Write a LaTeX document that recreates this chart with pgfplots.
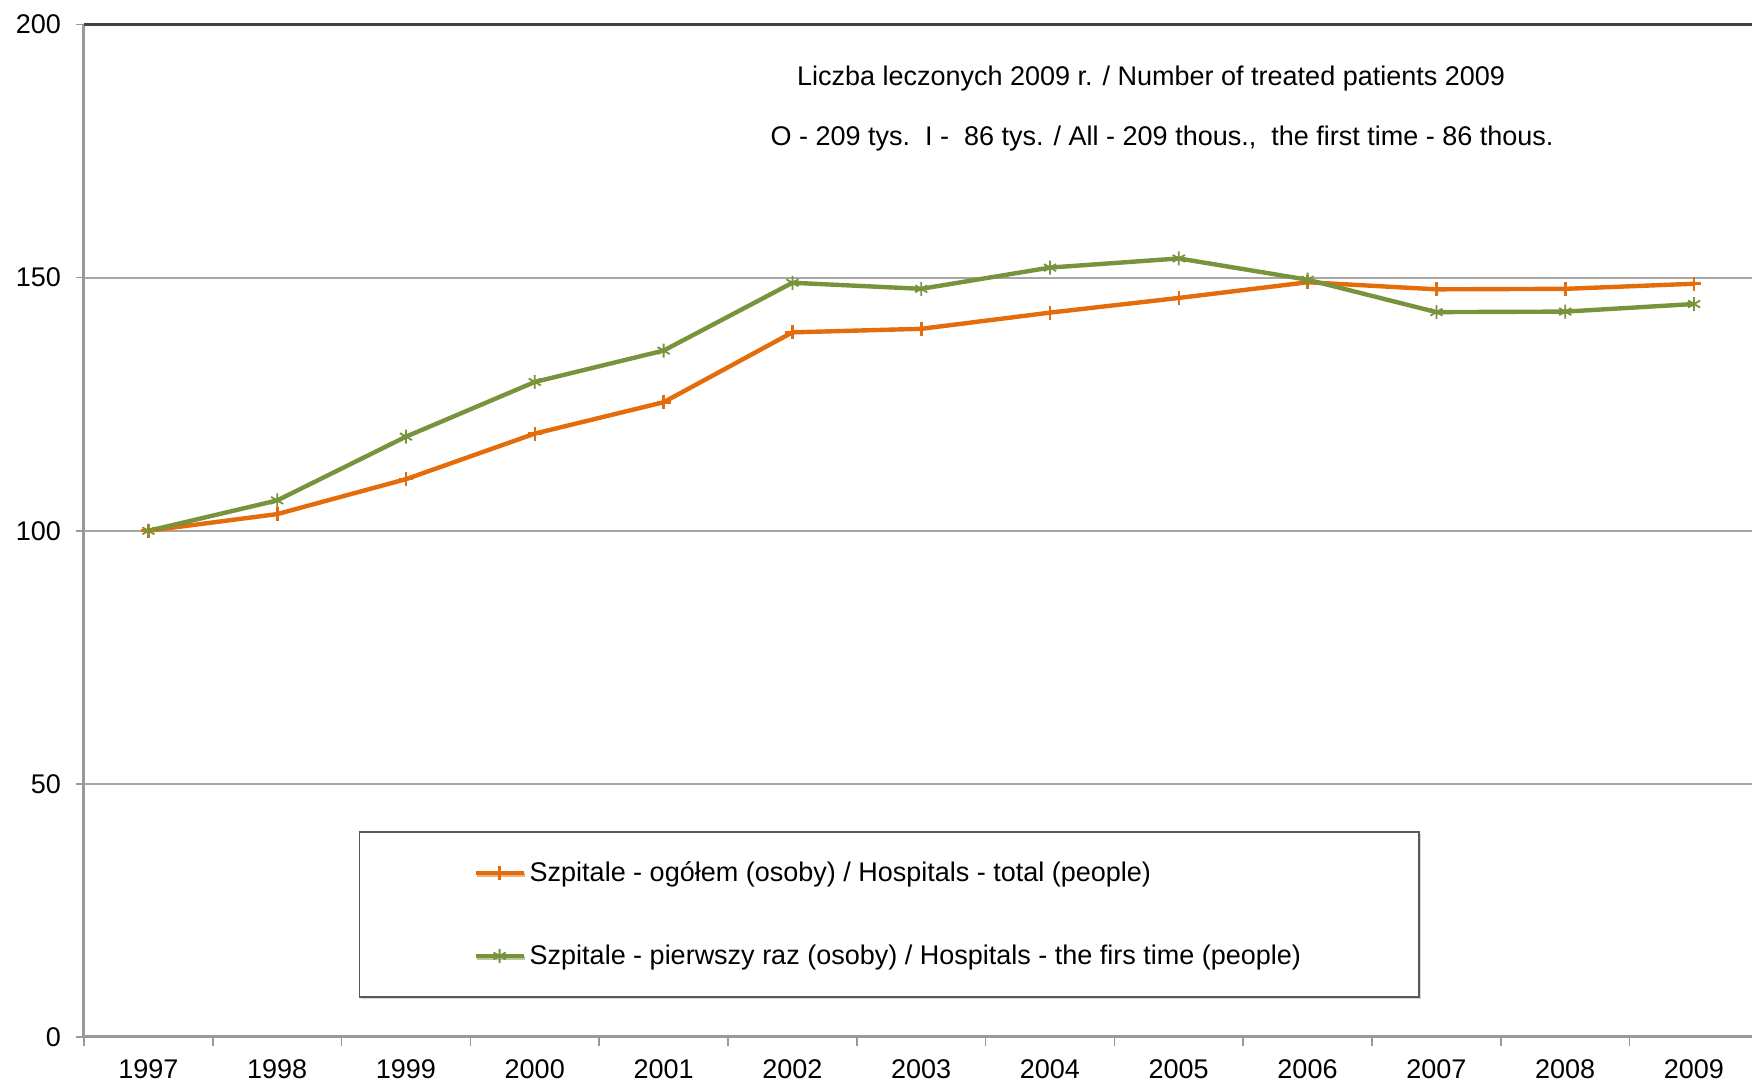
\documentclass[border=0pt]{standalone}
\usepackage{pgfplots}
\pgfplotsset{compat=1.18}
\usepackage{fontspec}
\setmainfont{Liberation Sans}
\usetikzlibrary{shadows}
\definecolor{cOrange}{HTML}{E46C0A}
\definecolor{cGreen}{HTML}{77933C}
\newcommand{\fs}{\fontsize{13.5}{16}\selectfont}
\begin{document}
\begin{tikzpicture}
\begin{axis}[
  scale only axis,
  width=834pt, height=506.2pt,
  xmin=1996.5, xmax=2009.45,
  ymin=0, ymax=200,
  axis x line*=bottom,
  axis y line*=left,
  axis line style={black!40, line width=1.5pt},
  xtick={1997,...,2009},
  xticklabels={1997,1998,1999,2000,2001,2002,2003,2004,2005,2006,2007,2008,2009},
  minor xtick={1996.5,1997.5,...,2009.5},
  major x tick style={draw=none},
  minor x tick style={black!40, line width=0.8pt},
  minor tick length=4.5pt,
  ytick={0,50,100,150},
  extra y ticks={200},
  extra y tick style={grid style={black!75, line width=1.5pt}},
  y tick style={black!40, line width=0.8pt},
  major tick length=4pt,
  tick align=outside,
  ymajorgrids,
  grid style={black!35, line width=1pt},
  /pgf/number format/assume math mode=true,
  tick label style={font=\fs, black},
  xticklabel style={yshift=-4pt},
  yticklabel style={xshift=-4pt},
  legend style={at={(0.1647,0.2035)}, anchor=north west,
    draw=black!65, line width=0.8pt, font=\fs,
    inner xsep=57pt, inner ysep=13pt, row sep=26pt,
    drop shadow={shadow xshift=0.8pt, shadow yshift=-1pt, fill=black!30}},
  legend cell align=left,
  legend image code/.code={
    \draw[mark repeat=2,mark phase=2] plot coordinates {(0cm,0cm) (0.42cm,0cm) (0.84cm,0cm)};
  },
  clip=false,
]
\addplot[cOrange, line width=2.2pt, mark=+, mark size=3.5pt, mark options={line width=1.3pt}] coordinates {
(1997,100) (1998,103.3) (1999,110.2) (2000,119.2) (2001,125.4) (2002,139.2) (2003,139.9)
(2004,143.1) (2005,146.0) (2006,149.1) (2007,147.7) (2008,147.8) (2009,148.8)};
\addlegendentry{Szpitale - ogółem (osoby) / Hospitals - total (people)}
\addplot[cGreen, line width=2.2pt, mark=asterisk, mark size=3.5pt, mark options={line width=0.9pt}] coordinates {
(1997,100) (1998,106.0) (1999,118.6) (2000,129.4) (2001,135.6) (2002,149.0) (2003,147.8)
(2004,152.0) (2005,153.8) (2006,149.6) (2007,143.2) (2008,143.3) (2009,144.8)};
\addlegendentry{Szpitale - pierwszy raz (osoby) / Hospitals - the firs time (people)}
\node[font=\fs] at (rel axis cs:0.6397,0.9472) {Liczba leczonych 2009 r. / Number of treated patients 2009};
\node[font=\fs] at (rel axis cs:0.6463,0.8875) {O - 209 tys.\ \ I - \ 86 tys. / All - 209 thous., \ the first time - 86 thous.};
\end{axis}
\pgfresetboundingbox
\path (-42pt,-22.5pt) rectangle (834pt,518.5pt);
\end{tikzpicture}
\end{document}
